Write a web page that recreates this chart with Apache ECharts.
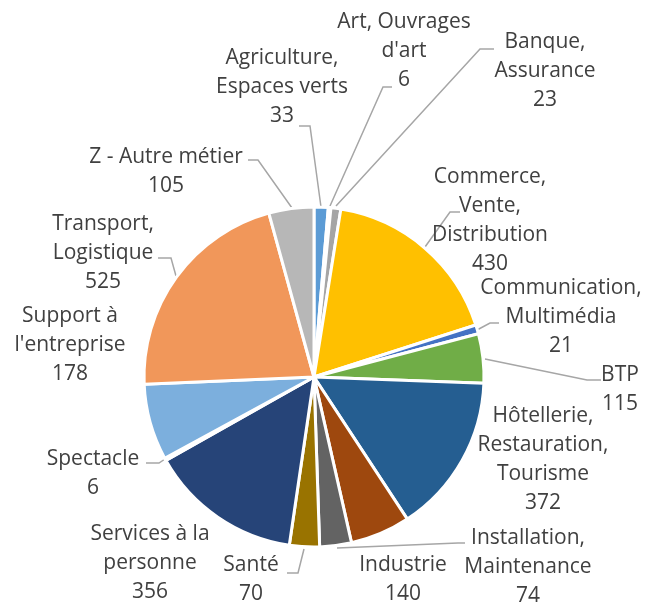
<!DOCTYPE html>
<html>
<head>
<meta charset="utf-8">
<script src="https://cdn.jsdelivr.net/npm/echarts@6/dist/echarts.min.js"></script>
<style>
  html, body { margin: 0; background: #fff; }
  #chart { width: 655px; height: 604px; }
</style>
</head>
<body>
<div id="chart"></div>
<script>
// categories as they are wrapped in the picture
const categories = [
  "Agriculture,\nEspaces verts",
  "Art, Ouvrages\nd'art",
  "Banque,\nAssurance",
  "Commerce,\nVente,\nDistribution",
  "Communication,\nMultimédia",
  "BTP",
  "Hôtellerie,\nRestauration,\nTourisme",
  "Industrie",
  "Installation,\nMaintenance",
  "Santé",
  "Services à la\npersonne",
  "Spectacle",
  "Support à\nl'entreprise",
  "Transport,\nLogistique",
  "Z - Autre métier"
];
const values = [33, 6, 23, 430, 21, 115, 372, 140, 74, 70, 356, 6, 178, 525, 105];

const colors = [
  "#5b9bd5", "#ed7d31", "#a5a5a5", "#ffc000", "#4472c4", "#70ad47",
  "#255e91", "#9e480e", "#636363", "#997300", "#264478", "#43682b",
  "#7cafdd", "#f1975a", "#b7b7b7"
];

// label block centres in px
const labelPos = [
  [282, 87], [404, 51], [545, 71], [490, 221], [561, 317], [620, 390],
  [543, 460], [403, 580], [528, 567], [251, 580], [150, 563], [93, 474],
  [70, 345], [103, 253], [166, 172]
];
// leader lines (label end, bend, slice end); null = no leader line
const leaders = [
  [[299, 126], [310, 126], [321, 207]],
  [[392, 87], [383, 87], [330, 206]],
  [[494, 49], [480, 49], [336, 206]],
  [[460, 212], [450, 212], [425, 247]],
  [[499, 323], [490, 323], [477, 330]],
  [[601, 380], [587, 380], [485, 359]],
  null,
  null,
  [[465, 543], [458, 543], [337, 548]],
  [[287, 573], [298, 573], [304, 549]],
  null,
  [[146, 463], [159, 463], [165, 459]],
  null,
  [[158, 258], [171, 258], [176, 276]],
  [[248, 160], [258, 160], [292, 208]]
];

const chart = echarts.init(document.getElementById("chart"));

const data = categories.map((name, i) => ({
  name: name,
  value: values[i],
  itemStyle: { color: colors[i] },
  labelLine: { show: leaders[i] !== null }
}));

chart.setOption({
  animation: false,
  series: [
    {
      type: "pie",
      center: [314, 377],
      radius: 170,
      startAngle: 90,
      clockwise: true,
      avoidLabelOverlap: false,
      itemStyle: { borderColor: "#fff", borderWidth: 3 },
      emphasis: { disabled: true },
      label: {
        show: true,
        formatter: "{b}\n{c}",
        color: "#404040",
        fontFamily: "Open Sans",
        fontSize: 21,
        lineHeight: 29
      },
      labelLine: {
        length: 10,
        length2: 10,
        lineStyle: { color: "#a6a6a6", width: 1.5 }
      },
      labelLayout: function (params) {
        const i = params.dataIndex;
        const p = labelPos[i];
        const out = { x: p[0], y: p[1], align: "center", verticalAlign: "middle" };
        if (leaders[i]) out.labelLinePoints = leaders[i];
        return out;
      },
      data: data
    }
  ]
});
</script>
</body>
</html>
